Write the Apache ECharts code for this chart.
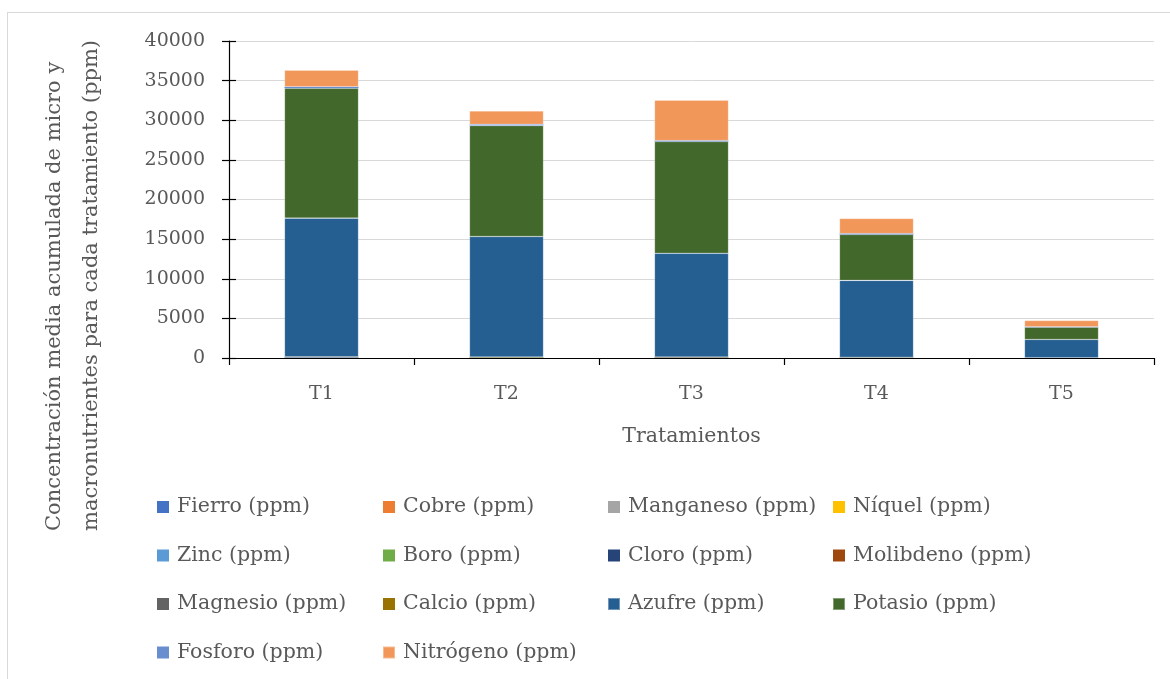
<!DOCTYPE html>
<html>
<head>
<meta charset="utf-8">
<script src="https://cdn.jsdelivr.net/npm/echarts@6/dist/echarts.min.js"></script>
<style>
  html, body { margin: 0; padding: 0; background: #fff; }
  .frame {
    position: absolute; left: 7px; top: 12px; width: 1180px; height: 690px;
    border: 1px solid #d9d9d9; box-sizing: border-box;
  }
  #chart { position: absolute; left: 0; top: 0; width: 1170px; height: 679px; }
</style>
</head>
<body>
<div class="frame"></div>
<div id="chart"></div>
<script>
// treatments on the x axis
const categories = ['T1', 'T2', 'T3', 'T4', 'T5']

// series in stacking order (bottom to top)
const seriesNames = [
  'Fierro (ppm)', 'Cobre (ppm)', 'Manganeso (ppm)', 'Níquel (ppm)',
  'Zinc (ppm)', 'Boro (ppm)', 'Cloro (ppm)', 'Molibdeno (ppm)',
  'Magnesio (ppm)', 'Calcio (ppm)', 'Azufre (ppm)', 'Potasio (ppm)',
  'Fosforo (ppm)', 'Nitrógeno (ppm)'
]
const fierro = [40, 35, 30, 25, 10]
const cobre = [5, 4, 4, 3, 1]
const manganeso = [20, 18, 15, 12, 5]
const niquel = [1, 1, 1, 1, 0.5]
const zinc = [15, 12, 10, 9, 4]
const boro = [10, 9, 8, 7, 3]
const cloro = [8, 7, 6, 5, 2]
const molibdeno = [1, 1, 1, 1, 0.5]
const magnesio = [20, 18, 16, 12, 5]
const calcio = [25, 22, 20, 15, 6]
const azufre = [17500, 15200, 13100, 9700, 2300]
const potasio = [16400, 14000, 14100, 5800, 1550]
const fosforo = [180, 150, 120, 110, 60]
const nitrogeno = [2100, 1700, 5100, 1900, 780]

const seriesValues = [
  fierro, cobre, manganeso, niquel, zinc, boro, cloro, molibdeno,
  magnesio, calcio, azufre, potasio, fosforo, nitrogeno
]
const seriesColors = [
  '#4472c4', '#ed7d31', '#a5a5a5', '#ffc000', '#5b9bd5', '#70ad47', '#264478',
  '#9e480e', '#636363', '#997300', '#255e91', '#43682b', '#698ed0', '#f1975a'
]

const yTicks = { min: 0, max: 40000, interval: 5000 }

const fontFamily = '"DejaVu Serif", serif'
const textColor = '#595959'

const chart = echarts.init(document.getElementById('chart'))

// four legend columns, filled row by row like the original
const legendColumns = [
  { left: 157, names: [0, 4, 8, 12] },
  { left: 382, names: [1, 5, 9, 13] },
  { left: 607, names: [2, 6, 10] },
  { left: 832, names: [3, 7, 11] }
]

chart.setOption({
  animation: false,
  color: seriesColors,
  textStyle: { fontFamily },
  grid: { left: 229, right: 16, top: 41, bottom: 321 },
  legend: legendColumns.map(col => ({
    orient: 'vertical',
    left: col.left,
    top: 496,
    padding: 0,
    itemWidth: 12,
    itemHeight: 12,
    itemGap: 26.5,
    icon: 'rect',
    selectedMode: false,
    textStyle: { fontSize: 20.5, color: textColor, lineHeight: 22, fontFamily, padding: [0, 0, 0, 3] },
    data: col.names.map(i => seriesNames[i])
  })),
  graphic: [
    {
      type: 'text',
      left: 36,
      top: 40,
      rotation: Math.PI / 2,
      style: {
        text: 'Concentración media acumulada de micro y\nmacronutrientes para cada tratamiento (ppm)',
        font: '21px ' + fontFamily,
        fill: textColor,
        align: 'center',
        lineHeight: 37
      }
    }
  ],
  xAxis: {
    type: 'category',
    data: categories,
    name: 'Tratamientos',
    nameLocation: 'middle',
    nameGap: 68,
    nameTextStyle: { fontSize: 20.5, color: textColor, fontFamily },
    axisLine: { lineStyle: { color: '#000', width: 1.2 } },
    axisTick: { show: true, length: 7, lineStyle: { color: '#000', width: 1.2 } },
    axisLabel: { fontSize: 19, color: textColor, margin: 27, fontFamily }
  },
  yAxis: [
    {
      type: 'value',
      ...yTicks,
      axisLine: { show: true, lineStyle: { color: '#000', width: 1.2 } },
      axisTick: { show: true, length: 7, lineStyle: { color: '#000', width: 1.2 } },
      axisLabel: { fontSize: 19, color: textColor, margin: 24, fontFamily, formatter: v => String(v) },
      splitLine: { lineStyle: { color: '#d9d9d9', width: 1 } }
    },
    {
      type: 'value',
      ...yTicks,
      position: 'left',
      axisLine: { show: false },
      axisTick: { show: true, inside: true, length: 7, lineStyle: { color: '#000', width: 1.2 } },
      axisLabel: { show: false },
      splitLine: { show: false }
    }
  ],
  series: seriesNames.map((name, i) => ({
    name,
    type: 'bar',
    stack: 'total',
    barWidth: 74,
    data: seriesValues[i],
    // only the thick layers get the faint light outline seen in the original
    itemStyle: Math.max(...seriesValues[i]) > 500
      ? { borderColor: 'rgba(255,255,255,0.35)', borderWidth: 0.6 }
      : { borderWidth: 0 }
  }))
})
</script>
</body>
</html>
